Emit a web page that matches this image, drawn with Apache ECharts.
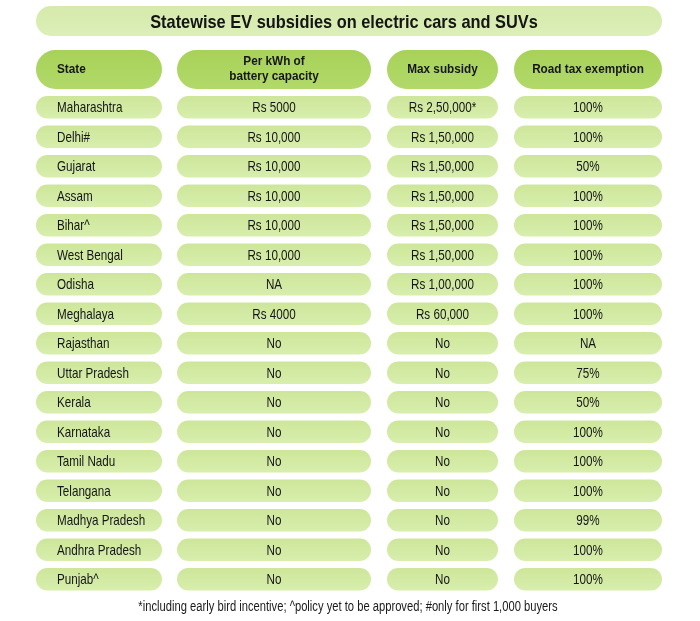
<!DOCTYPE html>
<html><head><meta charset="utf-8">
<style>html,body{margin:0;padding:0;background:#fff}#c{width:700px;height:621px}</style>
<script src="https://cdn.jsdelivr.net/npm/echarts@6/dist/echarts.min.js"></script>
</head><body><div id="c"></div>
<script>
// ---- data ----
const titleText = 'Statewise EV subsidies on electric cars and SUVs';
const footnote = '*including early bird incentive; ^policy yet to be approved; #only for first 1,000 buyers';
const headers = ['State', 'Per kWh of\nbattery capacity', 'Max subsidy', 'Road tax exemption'];
const states = ['Maharashtra','Delhi#','Gujarat','Assam','Bihar^','West Bengal','Odisha','Meghalaya','Rajasthan','Uttar Pradesh','Kerala','Karnataka','Tamil Nadu','Telangana','Madhya Pradesh','Andhra Pradesh','Punjab^'];
const perKwh = ['Rs 5000','Rs 10,000','Rs 10,000','Rs 10,000','Rs 10,000','Rs 10,000','NA','Rs 4000','No','No','No','No','No','No','No','No','No'];
const maxSubsidy = ['Rs 2,50,000*','Rs 1,50,000','Rs 1,50,000','Rs 1,50,000','Rs 1,50,000','Rs 1,50,000','Rs 1,00,000','Rs 60,000','No','No','No','No','No','No','No','No','No'];
const roadTax = ['100%','100%','50%','100%','100%','100%','100%','100%','NA','75%','50%','100%','100%','100%','99%','100%','100%'];

// ---- layout ----
const COLS = [
  {x0: 36, x1: 162, align: 'left', pad: 21},
  {x0: 177, x1: 371, align: 'center'},
  {x0: 387, x1: 498, align: 'center'},
  {x0: 514, x1: 662, align: 'center'}
];
const HEADER_ROW = -1.28;
const FONT = '"Liberation Sans", Arial, Helvetica, sans-serif';

const columns = [states, perKwh, maxSubsidy, roadTax];
const cells = [];
headers.forEach((h, c) => cells.push({c: c, r: HEADER_ROW, text: h, head: true}));
states.forEach((s, r) => columns.forEach((col, c) => cells.push({c: c, r: r, text: col[r], head: false})));

const chart = echarts.init(document.getElementById('c'), null, {renderer: 'canvas'});
chart.setOption({
  backgroundColor: '#ffffff',
  animation: false,
  grid: {left: 0, right: 0, top: 92.5, bottom: 27},
  xAxis: {type: 'value', min: 0, max: 700, show: false},
  yAxis: {type: 'value', inverse: true, min: -0.5, max: 16.5, show: false},
  graphic: [
    {type: 'rect', shape: {x: 36, y: 6, width: 626, height: 30, r: 15},
     style: {fill: {type: 'linear', x: 0, y: 0, x2: 0, y2: 1, colorStops: [{offset: 0, color: '#d5eaab'}, {offset: 1, color: '#dcefb8'}]}}},
    {type: 'text', x: 344, y: 22.5, scaleX: 0.885, style: {text: titleText, align: 'center', verticalAlign: 'middle',
      font: 'bold 18.5px ' + FONT, fill: '#141414'}},
    {type: 'text', x: 348, y: 607, scaleX: 0.8, style: {text: footnote, align: 'center', verticalAlign: 'middle',
      font: '14px ' + FONT, fill: '#1a1a1a'}}
  ],
  series: [{
    type: 'custom',
    clip: false,
    data: cells.map(d => [d.c, d.r]),
    renderItem: function (params, api) {
      const d = cells[params.dataIndex];
      const col = COLS[d.c];
      const p0 = api.coord([col.x0, d.r]);
      const p1 = api.coord([col.x1, d.r]);
      const unit = api.size([0, 1])[1];
      const h = d.head ? unit * 1.32 : unit * 0.77;
      const w = p1[0] - p0[0];
      const fill = d.head
        ? {type: 'linear', x: 0, y: 0, x2: 0, y2: 1, colorStops: [{offset: 0, color: '#a7d258'}, {offset: 1, color: '#b2d96a'}]}
        : {type: 'linear', x: 0, y: 0, x2: 0, y2: 1, colorStops: [{offset: 0, color: '#cde699'}, {offset: 1, color: '#d8eeae'}]};
      const tx = col.align === 'left' ? p0[0] + col.pad : p0[0] + w / 2;
      return {
        type: 'group',
        children: [
          {type: 'rect', shape: {x: p0[0], y: p0[1] - h / 2, width: w, height: h, r: h / 2}, style: {fill: fill}},
          {type: 'text', x: tx, y: p0[1] + (d.head ? 0 : 0.8), scaleX: d.head ? 0.98 : 0.81, style: {
            text: d.text, align: col.align, verticalAlign: 'middle',
            font: (d.head ? 'bold 12px ' : '14.4px ') + FONT,
            lineHeight: 15, fill: '#161616'}}
        ]
      };
    }
  }]
});
</script></body></html>
